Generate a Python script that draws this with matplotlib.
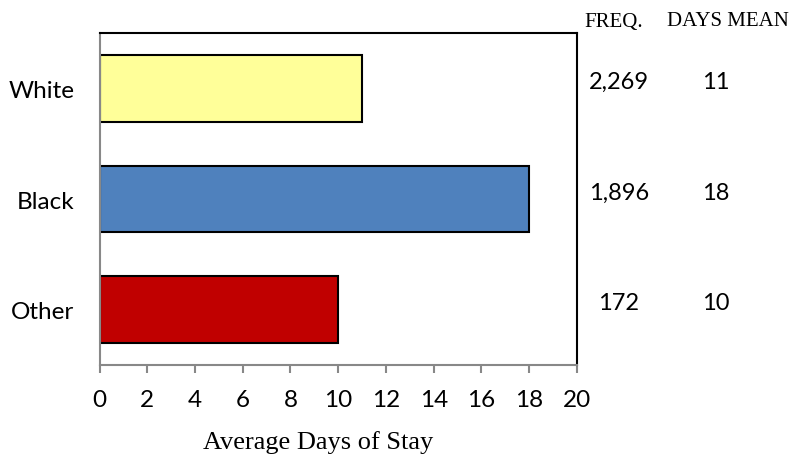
import matplotlib
matplotlib.use("Agg")
import matplotlib.pyplot as plt

categories = ["White", "Black", "Other"]
days_mean = [11, 18, 10]
freq_labels = ["2,269", "1,896", "172"]
mean_labels = ["11", "18", "10"]
colors = ["#FFFF99", "#4F81BD", "#C00000"]

sans = "Lato"
serif = "Liberation Serif"


def main():
    fig = plt.figure(figsize=(7.93, 4.56), dpi=100)
    ax = fig.add_axes([0.1255, 0.1974, 0.602, 0.728])

    pos = list(range(len(categories)))[::-1]
    ax.barh(pos, days_mean, height=0.6, color=colors, edgecolor="black", linewidth=1.5)

    ax.set_xlim(0, 20)
    ax.set_ylim(-0.5, 2.5)
    ax.set_xticks(range(0, 21, 2))
    ax.set_yticks(pos)
    ax.set_yticklabels(categories)

    for lab in ax.get_xticklabels() + ax.get_yticklabels():
        lab.set_fontfamily(sans)
        lab.set_fontsize(17.5)

    ax.tick_params(axis="y", length=0, pad=18)
    ax.tick_params(axis="x", length=6, width=1.5, color="#888888", direction="out", pad=11)

    ax.spines["left"].set_color("#888888")
    ax.spines["bottom"].set_color("#888888")
    for s in ax.spines.values():
        s.set_linewidth(1.5)

    ax.set_xlabel("Average Days of Stay", fontfamily=serif, fontsize=19)
    ax.xaxis.set_label_coords(0.458, -0.197)

    # table on the right
    fig.text(614 / 793, 1 - 22 / 456, "FREQ.", fontfamily=serif, fontsize=15,
             ha="center", va="center")
    fig.text(728 / 793, 1 - 22 / 456, "DAYS MEAN", fontfamily=serif, fontsize=15,
             ha="center", va="center")
    for p, f, m in zip(pos, freq_labels, mean_labels):
        y_fig = ax.transData.transform((0, p))[1]
        y_fig = fig.transFigure.inverted().transform((0, y_fig))[1]
        y_fig = y_fig + 7 / 456
        fig.text(619 / 793, y_fig, f, fontfamily=sans, fontsize=17, ha="center", va="center")
        fig.text(716 / 793, y_fig, m, fontfamily=sans, fontsize=17, ha="center", va="center")

    fig.savefig("out.png", dpi=100)


if __name__ == "__main__":
    main()
